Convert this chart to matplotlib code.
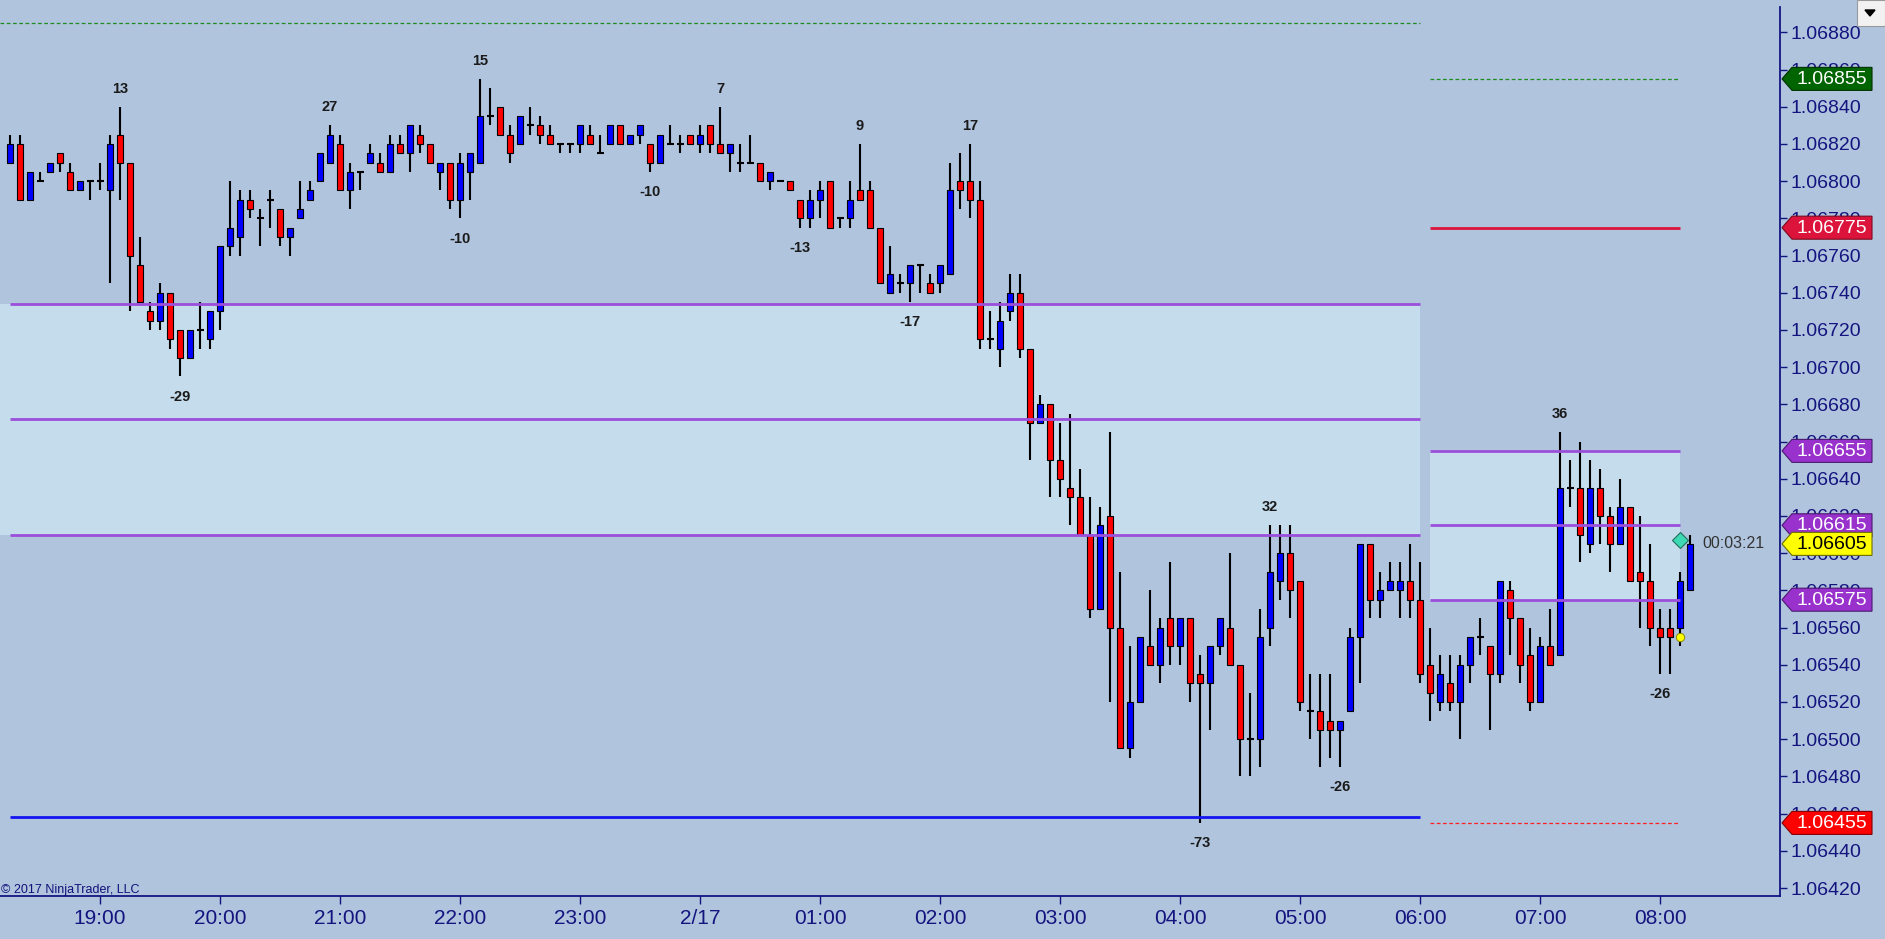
import matplotlib
matplotlib.use("Agg")
import matplotlib.pyplot as plt
from matplotlib.patches import Polygon, Rectangle
import numpy as np

plt.rcParams['font.family'] = ['Liberation Sans', 'DejaVu Sans']

W, H, DPI = 1885, 939, 100

# ---------------- data (5-minute bars, 6E futures) ----------------
opens = [
    1.06810, 1.06820, 1.06790, 1.06800, 1.06805, 1.06815, 1.06805, 1.06795, 1.06800, 1.06800, 1.06795, 1.06825,
    1.06810, 1.06755, 1.06730, 1.06725, 1.06740, 1.06720, 1.06705, 1.06720, 1.06715, 1.06730, 1.06765, 1.06770,
    1.06790, 1.06780, 1.06790, 1.06785, 1.06770, 1.06780, 1.06790, 1.06800, 1.06810, 1.06820, 1.06795, 1.06805,
    1.06810, 1.06810, 1.06805, 1.06820, 1.06815, 1.06825, 1.06820, 1.06805, 1.06810, 1.06790, 1.06805, 1.06810,
    1.06835, 1.06840, 1.06825, 1.06820, 1.06830, 1.06830, 1.06825, 1.06820, 1.06820, 1.06820, 1.06825, 1.06815,
    1.06820, 1.06830, 1.06820, 1.06825, 1.06820, 1.06810, 1.06820, 1.06820, 1.06825, 1.06820, 1.06830, 1.06820,
    1.06815, 1.06810, 1.06810, 1.06810, 1.06800, 1.06800, 1.06800, 1.06790, 1.06780, 1.06790, 1.06800, 1.06780,
    1.06780, 1.06795, 1.06795, 1.06775, 1.06740, 1.06745, 1.06745, 1.06755, 1.06745, 1.06745, 1.06750, 1.06800,
    1.06800, 1.06790, 1.06715, 1.06710, 1.06730, 1.06740, 1.06710, 1.06670, 1.06680, 1.06650, 1.06635, 1.06630,
    1.06610, 1.06570, 1.06620, 1.06560, 1.06495, 1.06520, 1.06550, 1.06540, 1.06565, 1.06550, 1.06565, 1.06535,
    1.06530, 1.06550, 1.06560, 1.06540, 1.06500, 1.06500, 1.06560, 1.06585, 1.06600, 1.06585, 1.06515, 1.06515,
    1.06510, 1.06505, 1.06515, 1.06555, 1.06605, 1.06575, 1.06580, 1.06580, 1.06585, 1.06575, 1.06540, 1.06520,
    1.06530, 1.06520, 1.06540, 1.06555, 1.06550, 1.06535, 1.06580, 1.06565, 1.06545, 1.06520, 1.06550, 1.06545,
    1.06635, 1.06635, 1.06605, 1.06635, 1.06620, 1.06605, 1.06625, 1.06590, 1.06585, 1.06560, 1.06560, 1.06560,
    1.06580,
]
highs = [
    1.06825, 1.06825, 1.06805, 1.06805, 1.06810, 1.06815, 1.06810, 1.06800, 1.06800, 1.06810, 1.06825, 1.06840,
    1.06810, 1.06770, 1.06735, 1.06745, 1.06740, 1.06720, 1.06720, 1.06735, 1.06730, 1.06765, 1.06800, 1.06795,
    1.06795, 1.06785, 1.06795, 1.06785, 1.06775, 1.06800, 1.06800, 1.06815, 1.06830, 1.06825, 1.06810, 1.06805,
    1.06820, 1.06815, 1.06825, 1.06825, 1.06830, 1.06830, 1.06820, 1.06810, 1.06810, 1.06815, 1.06815, 1.06855,
    1.06850, 1.06840, 1.06830, 1.06835, 1.06840, 1.06835, 1.06830, 1.06820, 1.06820, 1.06830, 1.06830, 1.06825,
    1.06830, 1.06830, 1.06825, 1.06830, 1.06820, 1.06825, 1.06830, 1.06825, 1.06825, 1.06830, 1.06830, 1.06840,
    1.06820, 1.06820, 1.06825, 1.06810, 1.06805, 1.06800, 1.06800, 1.06790, 1.06795, 1.06800, 1.06800, 1.06780,
    1.06800, 1.06820, 1.06800, 1.06775, 1.06765, 1.06750, 1.06755, 1.06755, 1.06750, 1.06755, 1.06810, 1.06815,
    1.06820, 1.06800, 1.06730, 1.06735, 1.06750, 1.06750, 1.06710, 1.06685, 1.06680, 1.06670, 1.06675, 1.06645,
    1.06630, 1.06625, 1.06665, 1.06590, 1.06550, 1.06555, 1.06580, 1.06565, 1.06595, 1.06565, 1.06565, 1.06545,
    1.06550, 1.06565, 1.06600, 1.06540, 1.06525, 1.06570, 1.06615, 1.06615, 1.06615, 1.06585, 1.06535, 1.06535,
    1.06535, 1.06510, 1.06560, 1.06605, 1.06605, 1.06590, 1.06595, 1.06595, 1.06605, 1.06595, 1.06560, 1.06545,
    1.06545, 1.06545, 1.06555, 1.06565, 1.06550, 1.06585, 1.06585, 1.06565, 1.06560, 1.06555, 1.06570, 1.06665,
    1.06650, 1.06660, 1.06650, 1.06645, 1.06625, 1.06640, 1.06625, 1.06620, 1.06605, 1.06570, 1.06570, 1.06590,
    1.06610,
]
lows = [
    1.06810, 1.06790, 1.06790, 1.06800, 1.06805, 1.06805, 1.06795, 1.06795, 1.06790, 1.06795, 1.06745, 1.06790,
    1.06730, 1.06735, 1.06720, 1.06720, 1.06710, 1.06695, 1.06705, 1.06710, 1.06710, 1.06720, 1.06760, 1.06760,
    1.06780, 1.06765, 1.06775, 1.06765, 1.06760, 1.06780, 1.06790, 1.06800, 1.06810, 1.06795, 1.06785, 1.06795,
    1.06810, 1.06805, 1.06805, 1.06815, 1.06805, 1.06815, 1.06810, 1.06795, 1.06785, 1.06780, 1.06790, 1.06810,
    1.06830, 1.06825, 1.06810, 1.06820, 1.06825, 1.06820, 1.06820, 1.06815, 1.06815, 1.06815, 1.06820, 1.06815,
    1.06820, 1.06820, 1.06820, 1.06820, 1.06805, 1.06810, 1.06820, 1.06815, 1.06820, 1.06815, 1.06815, 1.06815,
    1.06805, 1.06805, 1.06810, 1.06800, 1.06795, 1.06800, 1.06795, 1.06775, 1.06775, 1.06780, 1.06775, 1.06775,
    1.06775, 1.06790, 1.06775, 1.06745, 1.06740, 1.06740, 1.06735, 1.06740, 1.06740, 1.06740, 1.06750, 1.06785,
    1.06780, 1.06710, 1.06710, 1.06700, 1.06725, 1.06705, 1.06650, 1.06670, 1.06630, 1.06630, 1.06615, 1.06610,
    1.06565, 1.06570, 1.06520, 1.06495, 1.06490, 1.06520, 1.06540, 1.06530, 1.06540, 1.06540, 1.06520, 1.06455,
    1.06505, 1.06545, 1.06540, 1.06480, 1.06480, 1.06485, 1.06550, 1.06575, 1.06565, 1.06515, 1.06500, 1.06485,
    1.06490, 1.06485, 1.06515, 1.06530, 1.06565, 1.06565, 1.06580, 1.06565, 1.06565, 1.06530, 1.06510, 1.06515,
    1.06515, 1.06500, 1.06530, 1.06545, 1.06505, 1.06530, 1.06545, 1.06530, 1.06515, 1.06520, 1.06540, 1.06545,
    1.06625, 1.06595, 1.06600, 1.06605, 1.06590, 1.06605, 1.06585, 1.06560, 1.06550, 1.06535, 1.06535, 1.06550,
    1.06580,
]
closes = [
    1.06820, 1.06790, 1.06805, 1.06800, 1.06810, 1.06810, 1.06795, 1.06800, 1.06800, 1.06800, 1.06820, 1.06810,
    1.06760, 1.06735, 1.06725, 1.06740, 1.06715, 1.06705, 1.06720, 1.06720, 1.06730, 1.06765, 1.06775, 1.06790,
    1.06785, 1.06780, 1.06790, 1.06770, 1.06775, 1.06785, 1.06795, 1.06815, 1.06825, 1.06795, 1.06805, 1.06805,
    1.06815, 1.06805, 1.06820, 1.06815, 1.06830, 1.06820, 1.06810, 1.06810, 1.06790, 1.06810, 1.06815, 1.06835,
    1.06835, 1.06825, 1.06815, 1.06835, 1.06830, 1.06825, 1.06820, 1.06820, 1.06820, 1.06830, 1.06820, 1.06815,
    1.06830, 1.06820, 1.06825, 1.06830, 1.06810, 1.06825, 1.06820, 1.06820, 1.06820, 1.06825, 1.06820, 1.06815,
    1.06820, 1.06810, 1.06810, 1.06800, 1.06805, 1.06800, 1.06795, 1.06780, 1.06790, 1.06795, 1.06775, 1.06780,
    1.06790, 1.06790, 1.06775, 1.06745, 1.06750, 1.06745, 1.06755, 1.06755, 1.06740, 1.06755, 1.06795, 1.06795,
    1.06790, 1.06715, 1.06715, 1.06725, 1.06740, 1.06710, 1.06670, 1.06680, 1.06650, 1.06640, 1.06630, 1.06610,
    1.06570, 1.06615, 1.06560, 1.06495, 1.06520, 1.06555, 1.06540, 1.06560, 1.06550, 1.06565, 1.06530, 1.06530,
    1.06550, 1.06565, 1.06540, 1.06500, 1.06500, 1.06555, 1.06590, 1.06600, 1.06580, 1.06520, 1.06515, 1.06505,
    1.06505, 1.06510, 1.06555, 1.06605, 1.06575, 1.06580, 1.06585, 1.06585, 1.06575, 1.06535, 1.06525, 1.06535,
    1.06520, 1.06540, 1.06555, 1.06555, 1.06535, 1.06585, 1.06565, 1.06540, 1.06520, 1.06550, 1.06540, 1.06635,
    1.06635, 1.06610, 1.06635, 1.06620, 1.06605, 1.06625, 1.06585, 1.06585, 1.06560, 1.06555, 1.06555, 1.06585,
    1.06605,
]

time_labels = ['19:00', '20:00', '21:00', '22:00', '23:00', '2/17', '01:00',
               '02:00', '03:00', '04:00', '05:00', '06:00', '07:00', '08:00']
time_label_bars = [10, 22, 34, 46, 58, 70, 82, 94, 106, 118, 130, 142, 154, 166]

swing_bars = [12, 18, 33, 46, 48, 65, 72, 80, 86, 91, 97, 120, 127, 134, 156, 166]
swing_texts = ['13', '-29', '27', '-10', '15', '-10', '7', '-13', '9', '-17', '17',
               '-73', '32', '-26', '36', '-26']

# previous-session levels (drawn up to the 06:00 bar)
prev_high = 1.06885
prev_zone_top = 1.06734
prev_zone_mid = 1.06672
prev_zone_bot = 1.06610
prev_low = 1.06458
prev_end_bar = 142

# current-session levels
cur_high = 1.06855
cur_red = 1.06775
cur_zone_top = 1.06655
cur_zone_mid = 1.06615
cur_zone_bot = 1.06575
cur_low = 1.06455
cur_start_bar = 143
cur_end_bar = 168

marker_diamond_price = 1.06607
marker_dot_price = 1.06555
marker_bar = 168
timer_text = '00:03:21'

y_ticks = [1.06420, 1.06440, 1.06460, 1.06480, 1.06500, 1.06520, 1.06540, 1.06560,
           1.06580, 1.06600, 1.06620, 1.06640, 1.06660, 1.06680, 1.06700, 1.06720,
           1.06740, 1.06760, 1.06780, 1.06800, 1.06820, 1.06840, 1.06860, 1.06880]

# ---------------- styling ----------------
BG = '#B0C4DE'
ZONE = '#C5DCEC'
NAVY = '#14147F'
PURPLE = '#9B4FDA'
UP = '#0000FF'
DOWN = '#FF0000'

fig = plt.figure(figsize=(W / DPI, H / DPI), dpi=DPI, facecolor=BG)
ax = fig.add_axes([0, 43 / H, 1780 / W, 896 / H], facecolor=BG)
ax.set_xlim(0, 178)
ax.set_ylim(1.064157, 1.068974)

n = len(opens)
bars = np.arange(1, n + 1)
o = np.array(opens); h = np.array(highs); l = np.array(lows); c = np.array(closes)

# zones
ax.fill_between([0, prev_end_bar], prev_zone_bot, prev_zone_top, color=ZONE, lw=0, zorder=0.5)
ax.fill_between([cur_start_bar, cur_end_bar], cur_zone_bot, cur_zone_top, color=ZONE, lw=0, zorder=0.5)

# candles
ax.vlines(bars, l, h, color='black', lw=1.5, zorder=2)
up = c > o
dn = c < o
eq = c == o
ax.bar(bars[up], (c - o)[up], bottom=o[up], width=0.62, color=UP,
       edgecolor='black', lw=0.8, zorder=3)
ax.bar(bars[dn], (o - c)[dn], bottom=c[dn], width=0.62, color=DOWN,
       edgecolor='black', lw=0.8, zorder=3)
ax.hlines(c[eq], bars[eq] - 0.35, bars[eq] + 0.35, color='black', lw=1.5, zorder=3)

# level lines
ax.hlines(prev_high, 0, prev_end_bar, color='#1E8C1E', lw=0.9, linestyles=(0, (3, 2)), zorder=4)
for lv in (prev_zone_top, prev_zone_mid, prev_zone_bot):
    ax.hlines(lv, 1, prev_end_bar, color=PURPLE, lw=2.0, zorder=4)
ax.hlines(prev_low, 1, prev_end_bar, color='#1414F0', lw=2.0, zorder=4)

ax.hlines(cur_high, cur_start_bar, cur_end_bar, color='#1E8C1E', lw=0.9, linestyles=(0, (3, 2)), zorder=4)
ax.hlines(cur_red, cur_start_bar, cur_end_bar, color='#DC143C', lw=2.0, zorder=4)
for lv in (cur_zone_top, cur_zone_mid, cur_zone_bot):
    ax.hlines(lv, cur_start_bar, cur_end_bar, color=PURPLE, lw=2.0, zorder=4)
ax.hlines(cur_low, cur_start_bar, cur_end_bar, color='#FF2020', lw=0.9, linestyles=(0, (3, 2)), zorder=4)

# swing labels
for b, t in zip(swing_bars, swing_texts):
    if t.startswith('-'):
        ax.annotate(t, (b, lows[b - 1]), xytext=(0, -14.5), textcoords='offset points',
                    ha='center', va='center', fontsize=10.5, fontweight='bold', color='#1A1A1A', zorder=6)
    else:
        ax.annotate(t, (b, highs[b - 1]), xytext=(0, 13), textcoords='offset points',
                    ha='center', va='center', fontsize=10.5, fontweight='bold', color='#1A1A1A', zorder=6)

# markers and timer
ax.plot([marker_bar], [marker_diamond_price], marker='D', ms=8.5, mfc='#3ED8B4', mec='#1E6E5A',
        mew=0.8, zorder=7, clip_on=False)
ax.plot([marker_bar], [marker_dot_price], marker='o', ms=6, mfc='#FFFF00', mec='#8A8A00',
        mew=0.7, zorder=7, clip_on=False)
ax.text(170.2, closes[-1], timer_text, ha='left', va='center', fontsize=11.5, color='#333333', zorder=7)

# axes styling
for s in ('top', 'left'):
    ax.spines[s].set_visible(False)
ax.spines['right'].set_color(NAVY)
ax.spines['bottom'].set_color(NAVY)
ax.spines['right'].set_linewidth(1.3)
ax.spines['bottom'].set_linewidth(1.3)
ax.yaxis.tick_right()
ax.set_yticks(y_ticks)
ax.set_yticklabels([f'{v:.5f}' for v in y_ticks])
ax.set_xticks(time_label_bars)
ax.set_xticklabels(time_labels)
ax.tick_params(axis='y', direction='out', length=5, width=1, color=NAVY,
               labelsize=14, labelcolor=NAVY, pad=2.5)
ax.tick_params(axis='x', direction='out', length=6, width=1, color=NAVY,
               labelsize=15, labelcolor=NAVY, pad=3)
top_price = ax.transData.inverted().transform((0, H - 7))[1]
ax.spines['right'].set_bounds(ax.get_ylim()[0], top_price)

# ---------------- overlay (pixel coords) for price tags ----------------
ov = fig.add_axes([0, 0, 1, 1])
ov.set_xlim(0, W)
ov.set_ylim(H, 0)
ov.axis('off')
ov.patch.set_visible(False)


def ypix(price):
    return H - ax.transData.transform((0, price))[1]


tags = [
    (cur_high, '#006400', '#003000', 'white'),
    (cur_red, '#DC143C', '#7A0A20', 'white'),
    (cur_zone_top, '#9932CC', '#4B1870', 'white'),
    (cur_zone_mid, '#9932CC', '#4B1870', 'white'),
    (closes[-1], '#FFFF00', '#6E6E00', 'black'),
    (cur_zone_bot, '#9932CC', '#4B1870', 'white'),
    (cur_low, '#FF0000', '#800000', 'white'),
]
for price, fc, ec, tc in tags:
    y = ypix(price)
    poly = Polygon([(1782, y), (1792, y - 11.5), (1872, y - 11.5), (1872, y + 11.5), (1792, y + 11.5)],
                   closed=True, facecolor=fc, edgecolor=ec, lw=0.8)
    ov.add_patch(poly)
    ov.text(1796, y + 0.5, f'{price:.5f}', ha='left', va='center', fontsize=14, color=tc)

# dropdown button
ov.add_patch(Rectangle((1857, 0), 28, 26, facecolor='#F2F2F2', edgecolor='#9A9A9A', lw=0.8))
ov.add_patch(Polygon([(1865, 10), (1875, 10), (1870, 16)], closed=True, facecolor='black', edgecolor='black'))

# copyright
ov.text(1, 890, '\u00a9 2017 NinjaTrader, LLC', ha='left', va='center', fontsize=9, color='#10107A')

fig.savefig('out.png', dpi=DPI, facecolor=BG)
